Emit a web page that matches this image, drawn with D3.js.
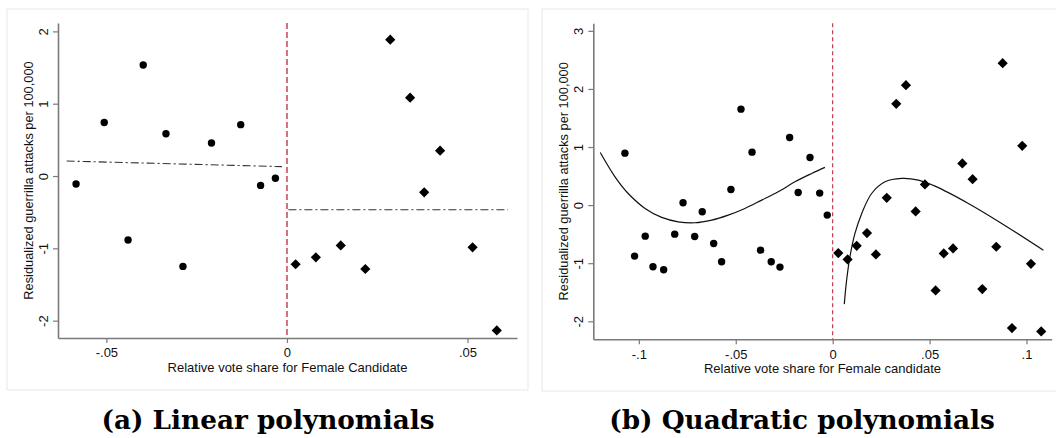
<!DOCTYPE html>
<html lang="en">
  <head>
    <meta charset="UTF-8" />
    <title>RD plots</title>
    <script src="https://cdn.jsdelivr.net/npm/d3@7/dist/d3.min.js"></script>
    <style>
      body { margin: 0; background: #fff; }
    </style>
  </head>
  <body>
    <svg width="1056" height="438"></svg>
  </body>
  <script>
    // panel (a): linear polynomials
    var aLeftX = [-0.0584, -0.0506, -0.044, -0.0398, -0.0335, -0.0288, -0.0209, -0.0128, -0.0073, -0.0032];
    var aLeftY = [-0.11, 0.74, -0.885, 1.535, 0.585, -1.25, 0.456, 0.71, -0.13, -0.03];
    var aRightX = [0.0024, 0.008, 0.0149, 0.0217, 0.0286, 0.0341, 0.038, 0.0424, 0.0514, 0.0581];
    var aRightY = [-1.22, -1.125, -0.96, -1.286, 1.885, 1.083, -0.225, 0.35, -0.986, -2.135];
    var aFitLeft = [[-0.061, 0.207], [-0.0014, 0.13]];
    var aFitRight = [[0.0004, -0.466], [0.0612, -0.466]];
    var aXTicks = [-0.05, 0, 0.05];
    var aYTicks = [-2, -1, 0, 1, 2];

    // panel (b): quadratic polynomials
    var bLeftX = [-0.1072, -0.1022, -0.0967, -0.0927, -0.0872, -0.0815, -0.0772, -0.0712, -0.0673, -0.0614, -0.0573,
                  -0.0525, -0.0473, -0.0416, -0.0372, -0.0317, -0.0272, -0.0222, -0.0178, -0.0117, -0.0067, -0.0028];
    var bLeftY = [0.895, -0.878, -0.534, -1.06, -1.113, -0.5, 0.04, -0.54, -0.115, -0.66, -0.975,
                  0.27, 1.652, 0.912, -0.775, -0.975, -1.067, 1.165, 0.218, 0.82, 0.207, -0.172];
    var bRightX = [0.0029, 0.0077, 0.0124, 0.0177, 0.0223, 0.0279, 0.0328, 0.0378, 0.0428, 0.0476, 0.0531,
                   0.0573, 0.0621, 0.0669, 0.0722, 0.0772, 0.0844, 0.0877, 0.0925, 0.0978, 0.1023, 0.1076];
    var bRightY = [-0.826, -0.935, -0.7, -0.482, -0.849, 0.126, 1.744, 2.065, -0.109, 0.356, -1.469,
                   -0.832, -0.746, 0.717, 0.447, -1.446, -0.717, 2.444, -2.117, 1.021, -1.01, -2.174];
    var bFitLeft = [[-0.1199, 0.906], [-0.1123, 0.487], [-0.1055, 0.2], [-0.0968, -0.057], [-0.0882, -0.212],
                    [-0.0797, -0.287], [-0.0711, -0.304], [-0.0624, -0.258], [-0.0539, -0.172], [-0.0453, -0.057],
                    [-0.0366, 0.086], [-0.0281, 0.229], [-0.0195, 0.401], [-0.0108, 0.545], [-0.004, 0.649]];
    var bFitRight = [[0.006, -1.704], [0.0072, -1.29], [0.0089, -0.89], [0.0115, -0.487], [0.015, -0.143],
                     [0.0201, 0.2], [0.027, 0.401], [0.0356, 0.459], [0.0442, 0.43], [0.0528, 0.327],
                     [0.07, 0.029], [0.0872, -0.315], [0.1087, -0.775]];
    var bXTicks = [-0.1, -0.05, 0, 0.05, 0.1];
    var bYTicks = [-2, -1, 0, 1, 2, 3];

    var yTitle = "Residualized guerrilla attacks per 100,000";

    var svg = d3.select("svg");
    var sans = "'Liberation Sans', Arial, Helvetica, sans-serif";

    // stata style labels: -.05, .05, 0 (plain hyphen)
    function fmtX(v) {
      if (v === 0) return "0";
      return String(v).replace("0.", ".");
    }
    function fmtY(v) {
      return String(v);
    }

    function drawPanel(p) {
      var g = svg.append("g");

      g.append("rect")
        .attr("x", p.frame[0]).attr("y", p.frame[1])
        .attr("width", p.frame[2]).attr("height", p.frame[3])
        .attr("fill", "#fff")
        .attr("stroke", "#e4eaef")
        .attr("stroke-width", 1);

      var x = d3.scaleLinear().domain(p.xDomain).range([p.left, p.right]);
      var y = d3.scaleLinear().domain(p.yDomain).range([p.bottom, p.top]);

      var xAxis = d3.axisBottom(x).tickValues(p.xTicks).tickFormat(fmtX)
        .tickSize(5).tickSizeOuter(0).tickPadding(5);
      var yAxis = d3.axisLeft(y).tickValues(p.yTicks).tickFormat(fmtY)
        .tickSize(5).tickSizeOuter(0);

      var gx = g.append("g").attr("transform", "translate(0," + p.bottom + ")").call(xAxis);
      var gy = g.append("g").attr("transform", "translate(" + p.left + ",0)").call(yAxis);

      [gx, gy].forEach(function (ax) {
        ax.select(".domain").attr("stroke", "#7a7a7a").attr("stroke-width", 1.6);
        ax.selectAll(".tick line").attr("stroke", "#7a7a7a").attr("stroke-width", 1.2);
        ax.selectAll("text")
          .attr("fill", "#111")
          .style("font-family", sans)
          .style("font-size", "13px");
      });
      gy.selectAll(".tick text")
        .attr("x", null).attr("dy", null)
        .attr("text-anchor", "middle")
        .attr("transform", "translate(-10.5,0) rotate(-90)");

      // cutoff line
      g.append("line")
        .attr("x1", x(0)).attr("x2", x(0))
        .attr("y1", p.top).attr("y2", p.bottom)
        .attr("stroke", p.cutColor)
        .attr("stroke-width", p.cutWidth)
        .attr("stroke-dasharray", p.cutDash);

      // fitted lines
      var line = d3.line().x((d) => x(d[0])).y((d) => y(d[1])).curve(p.curve);
      [p.fitLeft, p.fitRight].forEach(function (f) {
        g.append("path")
          .attr("d", line(f))
          .attr("fill", "none")
          .attr("stroke", p.fitColor)
          .attr("stroke-width", p.fitWidth)
          .attr("stroke-dasharray", p.fitDash);
      });

      // bins
      g.selectAll("circle.bin")
        .data(d3.zip(p.leftX, p.leftY))
        .enter()
        .append("circle")
        .attr("cx", (d) => x(d[0]))
        .attr("cy", (d) => y(d[1]))
        .attr("r", 3.7)
        .attr("fill", "#000");

      var diamond = d3.symbol(d3.symbolSquare, 52);
      g.selectAll("path.dia")
        .data(d3.zip(p.rightX, p.rightY))
        .enter()
        .append("path")
        .attr("d", diamond)
        .attr("transform", (d) => "translate(" + x(d[0]) + "," + y(d[1]) + ") rotate(45)")
        .attr("fill", "#000");

      // axis titles
      g.append("text")
        .attr("x", (p.left + p.right) / 2)
        .attr("y", p.bottom + 34)
        .attr("text-anchor", "middle")
        .style("font-family", sans)
        .style("font-size", "13px")
        .attr("fill", "#111")
        .text(p.xTitle);

      g.append("text")
        .attr("transform", "translate(" + (p.left - 25) + "," + (p.top + p.bottom) / 2 + ") rotate(-90)")
        .attr("text-anchor", "middle")
        .style("font-family", sans)
        .style("font-size", "12.8px")
        .attr("fill", "#111")
        .text(yTitle);

      svg.append("text")
        .attr("x", p.captionX)
        .attr("y", 429)
        .attr("text-anchor", "middle")
        .style("font-family", "'DejaVu Serif', serif")
        .style("font-weight", "bold")
        .style("font-size", "26.3px")
        .attr("fill", "#000")
        .text(p.caption);
    }

    drawPanel({
      frame: [7, 9, 521, 381],
      left: 58, right: 517, top: 23, bottom: 338,
      xDomain: [-0.0634, 0.0637], yDomain: [-2.24, 2.116],
      xTicks: aXTicks, yTicks: aYTicks,
      leftX: aLeftX, leftY: aLeftY, rightX: aRightX, rightY: aRightY,
      fitLeft: aFitLeft, fitRight: aFitRight,
      curve: d3.curveLinear,
      fitColor: "#333", fitWidth: 1.1, fitDash: "8,3,2,3",
      cutColor: "#d3707f", cutWidth: 2, cutDash: "6,3",
      xTitle: "Relative vote share for Female Candidate",
      caption: "(a) Linear polynomials", captionX: 268
    });

    drawPanel({
      frame: [542, 9, 520, 382],
      left: 593.3, right: 1051.7, top: 23.3, bottom: 339.3,
      xDomain: [-0.1235, 0.113], yDomain: [-2.31, 3.13],
      xTicks: bXTicks, yTicks: bYTicks,
      leftX: bLeftX, leftY: bLeftY, rightX: bRightX, rightY: bRightY,
      fitLeft: bFitLeft, fitRight: bFitRight,
      curve: d3.curveCatmullRom.alpha(0.5),
      fitColor: "#111", fitWidth: 1.2, fitDash: null,
      cutColor: "#c0283c", cutWidth: 1.1, cutDash: "4,3",
      xTitle: "Relative vote share for Female candidate",
      caption: "(b) Quadratic polynomials", captionX: 802
    });
  </script>
</html>
